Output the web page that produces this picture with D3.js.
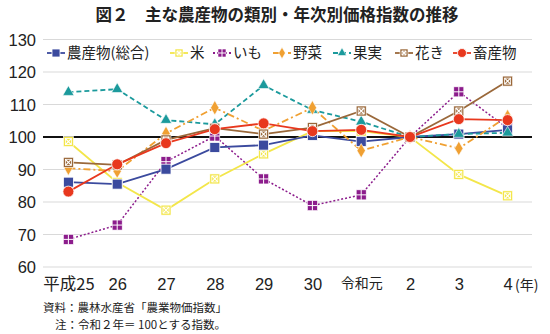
<!DOCTYPE html>
<html><head><meta charset="utf-8">
<script src="https://cdn.jsdelivr.net/npm/d3@7"></script>
<style>
body{margin:0;background:#fff;}
text{font-family:"Liberation Sans","Noto Sans CJK JP",sans-serif;}
.jp{font-family:"Noto Sans CJK JP",sans-serif;}
</style></head>
<body><svg id="c" width="550" height="334"></svg>
<script>
const categories = ["平成25","26","27","28","29","30","令和元","2","3","4"];
const yTicks = [60,70,80,90,100,110,120,130];
const seriesNames = ["農産物(総合)","米","いも","野菜","果実","花き","畜産物"];
const sogo   = [86.1,85.5,90.1,96.8,97.5,100.5,98.6,100,100.9,102.2];
const kome   = [98.6,86.0,77.5,87.1,94.8,101.8,101.8,100,88.5,81.9];
const imo    = [68.5,72.9,92.4,100.3,87.1,78.9,82.2,100,113.9,102.7];
const yasai  = [90.4,89.5,101.1,109.0,101.9,109.0,95.8,100,96.5,106.3];
const kajitsu= [113.8,114.7,105.2,103.9,115.9,108.3,104.7,100,100.9,101.3];
const kaki   = [92.2,91.4,99.1,102.7,100.9,102.9,108.0,100,108.0,117.2];
const chiku  = [83.2,91.6,98.1,102.4,104.2,101.8,102.2,100,105.5,105.2];

const seriesValues = [sogo,kome,imo,yasai,kajitsu,kaki,chiku];
const styles = [
 {color:"#3b4a9e",dash:null,marker:"square"},
 {color:"#f3e64a",dash:null,marker:"xsquare"},
 {color:"#8c1c8c",dash:"2,2",marker:"grid"},
 {color:"#f0a032",dash:"7,3,2,3",marker:"diamond"},
 {color:"#1b9a9c",dash:"5,3",marker:"triangle"},
 {color:"#9a683a",dash:null,marker:"xsquare"},
 {color:"#e8381e",dash:null,marker:"circle"}
];

const svg = d3.select("#c");
const x = d3.scalePoint().domain(categories).range([44,532]).padding(0.5);
const y = d3.scaleLinear().domain([60,130]).range([267,39.5]);

svg.append("text").attr("x",277).attr("y",21).attr("text-anchor","middle")
  .attr("class","jp").attr("font-size",16.5).attr("font-weight","bold").attr("fill","#222")
  .text("図２　主な農産物の類別・年次別価格指数の推移");

// gridlines
svg.append("g").selectAll("line").data(yTicks.filter(d=>d!==100)).join("line")
  .attr("x1",43).attr("x2",532).attr("y1",d=>y(d)).attr("y2",d=>y(d))
  .attr("stroke","#d9d9d9").attr("stroke-width",1);
svg.append("line").attr("x1",43).attr("x2",532).attr("y1",y(100)).attr("y2",y(100))
  .attr("stroke","#111").attr("stroke-width",2);

// y axis labels
const yAxis = d3.axisLeft(y).tickValues(yTicks).tickSize(0).tickPadding(0);
const gy = svg.append("g").attr("transform","translate(36,0)").call(yAxis);
gy.select(".domain").remove();
gy.selectAll("text").attr("font-size",16.5).attr("fill","#222").attr("dy","0.35em");

// x axis labels
const xAxis = d3.axisBottom(x).tickSize(0).tickPadding(0);
const gx = svg.append("g").attr("transform","translate(0,277)").call(xAxis);
gx.select(".domain").remove();
gx.selectAll("text").attr("fill","#222").attr("dy","0.8em")
  .attr("class",d=>/[^0-9]/.test(d)?"jp":null)
  .attr("font-size",d=>d==="令和元"?14:16.5);
svg.append("text").attr("x",515).attr("y",290).attr("class","jp").attr("font-size",14)
  .attr("fill","#222").attr("text-anchor","start").text("(年)");

function drawMarker(g, type, color, size){
  const s=size, h=s/2;
  if(type==="square"){
    g.append("rect").attr("x",-h).attr("y",-h).attr("width",s).attr("height",s)
     .attr("fill",color).attr("stroke","#fff").attr("stroke-width",0.8);
  } else if(type==="xsquare"){
    g.append("rect").attr("x",-h).attr("y",-h).attr("width",s).attr("height",s)
     .attr("fill",color).attr("stroke","#fff").attr("stroke-width",0.6);
    g.append("path").attr("d",`M${-h+2},${-h+2}L${h-2},${h-2}M${h-2},${-h+2}L${-h+2},${h-2}`)
     .attr("stroke","#fff").attr("stroke-width",1.2);
    g.append("rect").attr("x",-h+2).attr("y",-h+2).attr("width",s-4).attr("height",s-4)
     .attr("fill","none").attr("stroke","#fff").attr("stroke-width",0.8);
  } else if(type==="grid"){
    g.append("rect").attr("x",-h).attr("y",-h).attr("width",s).attr("height",s)
     .attr("fill",color).attr("stroke","#fff").attr("stroke-width",0.6);
    g.append("path").attr("d",`M0,${-h}V${h}M${-h},0H${h}`).attr("stroke","#fff").attr("stroke-width",1);
  } else if(type==="diamond"){
    g.append("path").attr("d",d3.symbol(d3.symbolDiamond,s*s*0.6)())
     .attr("fill",color).attr("stroke","#fff").attr("stroke-width",0.6);
  } else if(type==="triangle"){
    g.append("path").attr("d",d3.symbol(d3.symbolTriangle,s*s*0.55)())
     .attr("fill",color).attr("stroke","#fff").attr("stroke-width",0.6);
  } else if(type==="circle"){
    g.append("circle").attr("r",h+0.5).attr("fill",color).attr("stroke","#fff").attr("stroke-width",0.8);
  }
}

const line = d3.line().x((d,i)=>x(categories[i])).y(d=>y(d));
const drawOrder = [2,1,0,4,3,5,6];
drawOrder.forEach(k=>{
  const st = styles[k];
  svg.append("path").datum(seriesValues[k]).attr("d",line)
    .attr("fill","none").attr("stroke",st.color).attr("stroke-width",st.dash==="2,2"?1.5:1.8)
    .attr("stroke-dasharray",st.dash);
});
drawOrder.forEach(k=>{
  const st = styles[k];
  seriesValues[k].forEach((v,i)=>{
    const g = svg.append("g").attr("transform",`translate(${x(categories[i])},${y(v)})`);
    drawMarker(g, st.marker, st.color, 10);
  });
});

// legend
const legendX = [47,170,213,273,333,395,453];
const legend = svg.append("g");
seriesNames.forEach((n,k)=>{
  const st=styles[k];
  const g = legend.append("g").attr("transform",`translate(${legendX[k]},53)`);
  g.append("line").attr("x1",0).attr("x2",18).attr("y1",0).attr("y2",0)
   .attr("stroke",st.color).attr("stroke-width",1.8).attr("stroke-dasharray",st.dash);
  const m = g.append("g").attr("transform","translate(9,0)");
  drawMarker(m, st.marker, st.color, 8);
  g.append("text").attr("x",20).attr("y",0).attr("dy","0.36em").attr("class","jp")
   .attr("font-size",14.5).attr("fill","#222").text(n);
});

// notes
svg.append("text").attr("x",43).attr("y",312).attr("class","jp").attr("font-size",11.5).attr("fill","#222")
  .text("資料：農林水産省「農業物価指数」");
svg.append("text").attr("x",55).attr("y",329).attr("class","jp").attr("font-size",11.5).attr("fill","#222")
  .text("注：令和２年＝ 100とする指数。");
</script></body></html>
